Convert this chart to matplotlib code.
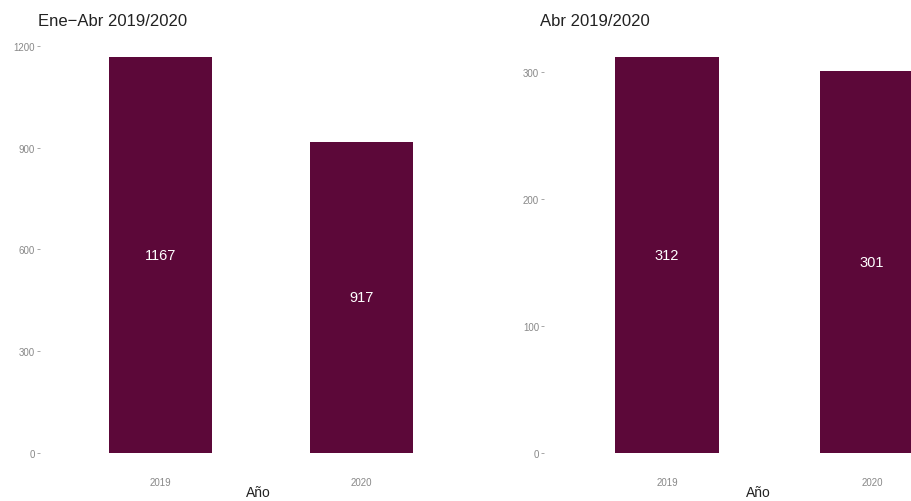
import matplotlib
matplotlib.use("Agg")
import matplotlib.pyplot as plt

plt.rcParams['font.family'] = ['Liberation Sans', 'DejaVu Sans']

years = ["2019", "2020"]
ene_abr = [1167, 917]
abr = [312, 301]
titles = ["Ene\u2212Abr 2019/2020", "Abr 2019/2020"]
yticks_left = [0, 300, 600, 900, 1200]
yticks_right = [0, 100, 200, 300]

bar_color = "#5c0839"

fig = plt.figure(figsize=(9.11, 5.02), dpi=100)

W, H = 911, 502
panels = [
    (40, 482, ene_abr, yticks_left, titles[0], 38, 258),
    (544, 995, abr, yticks_right, titles[1], 540, 758),
]

for x0, x1, vals, ticks, title, tx, lx in panels:
    ax = fig.add_axes([x0 / W, (H - 474) / H, (x1 - x0) / W, 436 / H])
    pos = [1, 2]
    ax.bar(pos, vals, width=0.51, color=bar_color)
    for p, v in zip(pos, vals):
        ax.text(p, v / 2, str(v), ha="center", va="center", color="white", fontsize=10.5)
    top = max(vals)
    ax.set_ylim(-0.05 * top, 1.05 * top)
    ax.set_xlim(0.4, 2.6)
    ax.set_xticks(pos)
    ax.set_xticklabels(years)
    ax.set_yticks(ticks)
    ax.tick_params(axis="both", colors="#999999", labelcolor="#888888", labelsize=7,
                   length=2, width=0.6, pad=1.5)
    ax.tick_params(axis="x", length=0, pad=3)
    for s in ax.spines.values():
        s.set_visible(False)
    fig.text(tx / W, 1 - 22 / H, title, ha="left", va="center", fontsize=12, color="#222222")
    fig.text(lx / W, 2 / H, "A\u00f1o", ha="center", va="bottom", fontsize=10, color="#222222")

fig.savefig("out.png", dpi=100)
